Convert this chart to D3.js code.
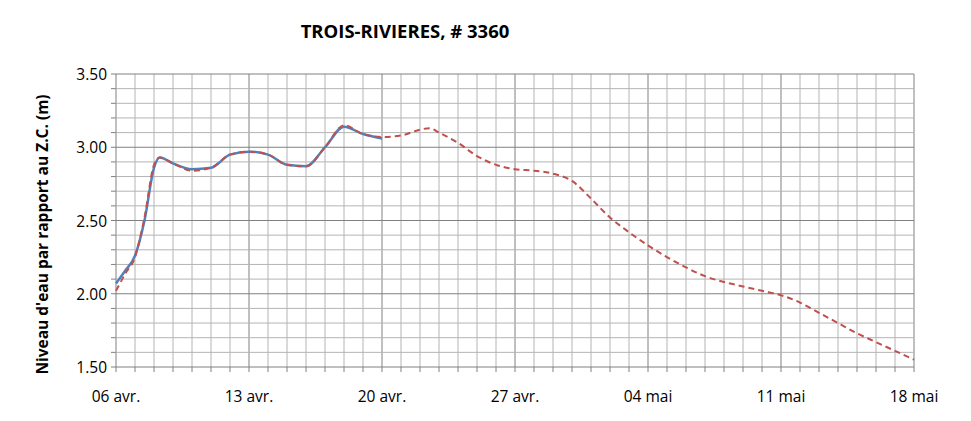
<!DOCTYPE html>
<html><head><meta charset="utf-8">
<script src="https://cdn.jsdelivr.net/npm/d3@7"></script>
<style>body{margin:0;background:#fff}text{font-family:"Open Sans","Liberation Sans",sans-serif}</style>
</head><body><svg id="c" width="971" height="421"></svg>
<script>
// days since 06 avr
const obsDays = [0, 0.5, 1, 1.5, 2, 2.3, 3, 4, 5, 6, 7, 8, 9, 10, 11, 12, 13, 14];
const obsVals = [2.07, 2.16, 2.26, 2.5, 2.86, 2.93, 2.89, 2.85, 2.86, 2.95, 2.97, 2.95, 2.88, 2.87, 3.0, 3.14, 3.09, 3.06];
const fcDays = [0, 0.5, 1, 1.5, 2, 2.3, 3, 4, 5, 6, 7, 8, 9, 10, 11, 12, 13, 14, 15, 16, 16.5, 17, 18, 19, 20, 21, 22, 23, 24, 25, 26, 27, 28, 29, 30, 31, 32, 33, 34, 35, 36, 37, 38, 39, 40, 41, 42];
const fcVals = [2.02, 2.14, 2.25, 2.52, 2.88, 2.93, 2.89, 2.84, 2.86, 2.95, 2.97, 2.95, 2.88, 2.87, 3.0, 3.15, 3.09, 3.07, 3.08, 3.12, 3.13, 3.10, 3.03, 2.94, 2.88, 2.85, 2.84, 2.82, 2.77, 2.65, 2.52, 2.42, 2.33, 2.25, 2.18, 2.12, 2.08, 2.05, 2.02, 1.99, 1.94, 1.87, 1.80, 1.73, 1.67, 1.61, 1.55];
const xTickLabels = ["06 avr.", "13 avr.", "20 avr.", "27 avr.", "04 mai", "11 mai", "18 mai"];
const yTicks = [1.5, 2.0, 2.5, 3.0, 3.5];

const svg = d3.select('#c');
const x = d3.scaleLinear().domain([0, 42]).range([116, 914]);
const y = d3.scaleLinear().domain([1.5, 3.5]).range([367, 74]);

// grid
const g = svg.append('g');
g.selectAll('.vx').data(d3.range(0, 43)).enter().append('line')
  .attr('x1', d => x(d)).attr('x2', d => x(d)).attr('y1', y(3.5)).attr('y2', y(1.5))
  .attr('stroke', d => d % 7 === 0 ? '#808080' : '#b4b4b4').attr('stroke-width', 1);
g.selectAll('.hy').data(d3.range(0, 21).map(i => 1.5 + i * 0.1)).enter().append('line')
  .attr('x1', x(0)).attr('x2', x(42)).attr('y1', d => y(d)).attr('y2', d => y(d))
  .attr('stroke', (d, i) => i % 5 === 0 ? '#808080' : '#b4b4b4').attr('stroke-width', 1);
// tick marks
g.selectAll('.tm').data(d3.range(0, 21).map(i => 1.5 + i * 0.1)).enter().append('line')
  .attr('x1', x(0) - 5).attr('x2', x(0)).attr('y1', d => y(d)).attr('y2', d => y(d)).attr('stroke', '#808080');
g.selectAll('.tx').data(d3.range(0, 43)).enter().append('line')
  .attr('x1', d => x(d)).attr('x2', d => x(d)).attr('y1', y(1.5)).attr('y2', y(1.5) + 5).attr('stroke', '#808080');

// labels
svg.selectAll('.yl').data(yTicks).enter().append('text')
  .attr('x', x(0) - 9).attr('y', d => y(d) + 6).attr('text-anchor', 'end')
  .attr('font-size', 15.5).text(d => d.toFixed(2));
svg.selectAll('.xl').data(xTickLabels).enter().append('text')
  .attr('x', (d, i) => x(i * 7)).attr('y', 402).attr('text-anchor', 'middle')
  .attr('font-size', 15.5).text(d => d);
svg.append('text').attr('x', 405).attr('y', 38).attr('text-anchor', 'middle')
  .attr('font-size', 18.5).attr('font-weight', 'bold').text('TROIS-RIVIERES, # 3360');
svg.append('text').attr('transform', 'translate(48,' + (y(2.5) + 14) + ') rotate(-90)')
  .attr('text-anchor', 'middle').attr('font-size', 15.5).attr('font-weight', 'bold')
  .text("Niveau d'eau par rapport  au Z.C. (m)");

const line = d3.line().x(d => x(d[0])).y(d => y(d[1])).curve(d3.curveMonotoneX);
svg.append('path').attr('d', line(d3.zip(obsDays, obsVals)))
  .attr('fill', 'none').attr('stroke', '#4f81bd').attr('stroke-width', 2.5);
svg.append('path').attr('d', line(d3.zip(fcDays, fcVals)))
  .attr('fill', 'none').attr('stroke', '#c0504d').attr('stroke-width', 2).attr('stroke-dasharray', '6,4');
</script></body></html>
